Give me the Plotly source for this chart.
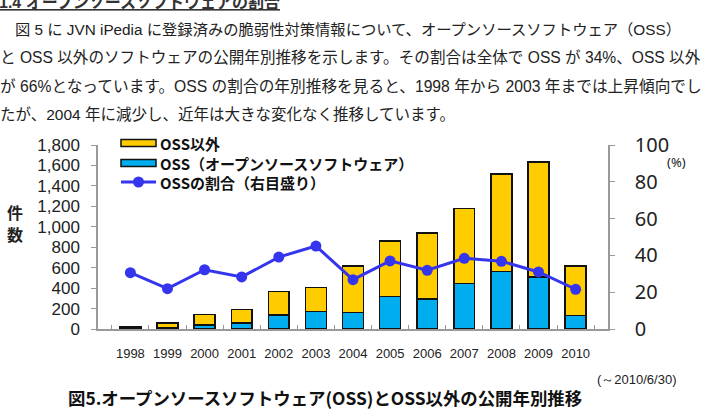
import plotly.graph_objects as go

# ---------------- data ----------------
years = ["1998", "1999", "2000", "2001", "2002", "2003", "2004",
         "2005", "2006", "2007", "2008", "2009", "2010"]
oss = [6, 13, 40, 60, 135, 170, 160, 320, 292, 443, 564, 511, 131]
non_oss = [14, 47, 100, 130, 230, 235, 455, 540, 645, 737, 954, 1125, 484]
oss_ratio = [30.6, 21.9, 32.2, 28.3, 39.1, 45.1, 26.8, 37.0, 31.9, 38.4, 36.8, 31.0, 21.6]

name_non_oss = "OSS以外"
name_oss = "OSS（オープンソースソフトウェア）"
name_ratio = "OSSの割合（右目盛り）"

heading = "<u>1.4 オープンソースソフトウェアの割合</u>"
body_lines = [
    "図 5 に JVN iPedia に登録済みの脆弱性対策情報について、オープンソースソフトウェア（OSS）",
    "と OSS 以外のソフトウェアの公開年別推移を示します。その割合は全体で OSS が 34%、OSS 以外",
    "が 66%となっています。OSS の割合の年別推移を見ると、1998 年から 2003 年までは上昇傾向でし",
    "たが、2004 年に減少し、近年は大きな変化なく推移しています。",
]
caption = "図5.オープンソースソフトウェア(OSS)とOSS以外の公開年別推移"
caption_note = "(～2010/6/30)"
y_label_chars = ["件", "数"]

# ---------------- layout helpers ----------------
W, H = 702, 415
PL, PR, PT, PB = 98, 608, 145, 329  # plot area in pixels


def px(x):
    return (x - PL) / (PR - PL)


def py(y):
    return (PB - y) / (PB - PT)


YELLOW = "#FFCC00"
CYAN = "#00AEEF"
BLUE = "#3535EE"
GRAY = "#999999"
JP = "Liberation Sans, Noto Sans CJK JP, sans-serif"
JPB = "Noto Sans CJK JP, sans-serif"

fig = go.Figure()
fig.add_trace(go.Bar(x=years, y=oss, name=name_oss, marker=dict(color=CYAN, line=dict(color="#111111", width=1.5)),
                     showlegend=False))
fig.add_trace(go.Bar(x=years, y=non_oss, name=name_non_oss, marker=dict(color=YELLOW, line=dict(color="#111111", width=1.5)),
                     showlegend=False))
fig.add_trace(go.Scatter(x=years, y=oss_ratio, name=name_ratio, yaxis="y2", mode="lines+markers",
                         line=dict(color=BLUE, width=3), marker=dict(color=BLUE, size=11),
                         showlegend=False))

fig.update_layout(
    width=W, height=H,
    margin=dict(l=PL, r=W - PR, t=PT, b=H - PB),
    paper_bgcolor="white", plot_bgcolor="white",
    barmode="stack", bargap=0.44,
    showlegend=False,
    xaxis=dict(type="category", showgrid=False, showline=True, linecolor=GRAY, linewidth=1.5,
               ticks="inside", tickson="boundaries", ticklen=4, tickcolor=GRAY, tickangle=0,
               tickfont=dict(family="Liberation Sans", size=13, color="#222"), ticklabelstandoff=12),
    yaxis=dict(range=[0, 1800], dtick=200, tickformat=",", showgrid=False, zeroline=False,
               showline=True, linecolor=GRAY, linewidth=1.5, ticks="outside", ticklen=5, tickcolor=GRAY,
               tickfont=dict(family="Liberation Sans", size=17, color="#222"), ticklabelstandoff=8),
    yaxis2=dict(range=[0, 100], dtick=20, overlaying="y", side="right", showgrid=False, zeroline=False,
                showline=True, linecolor=GRAY, linewidth=1.5, ticks="outside", ticklen=5, tickcolor=GRAY,
                tickfont=dict(family="Noto Sans", size=20, color="#222"), ticklabelstandoff=16),
)

# ---------------- manual legend ----------------
shapes = []
ann = []
leg_rows = [(143, name_non_oss, YELLOW), (163, name_oss, CYAN)]
for yc, label, col in leg_rows:
    shapes.append(dict(type="rect", xref="paper", yref="paper",
                       x0=px(121), x1=px(156), y0=py(yc + 3.5), y1=py(yc - 3.5),
                       fillcolor=col, line=dict(color="#111111", width=1.5)))
    ann.append(dict(x=px(158), y=py(yc), xref="paper", yref="paper", xanchor="left", yanchor="middle",
                    text="<b>" + label + "</b>", showarrow=False, font=dict(family=JPB, size=15, color="#111")))
shapes.append(dict(type="line", xref="paper", yref="paper", x0=px(121), x1=px(156), y0=py(182), y1=py(182),
                   line=dict(color=BLUE, width=3)))
shapes.append(dict(type="circle", xref="paper", yref="paper", x0=px(133), x1=px(144), y0=py(187.5), y1=py(176.5),
                   fillcolor=BLUE, line=dict(color=BLUE, width=0)))
ann.append(dict(x=px(158), y=py(182), xref="paper", yref="paper", xanchor="left", yanchor="middle",
                text="<b>" + name_ratio + "</b>", showarrow=False, font=dict(family=JPB, size=15, color="#111")))

# axis labels / units
for ch, yy in zip(y_label_chars, [212, 234]):
    ann.append(dict(x=px(15), y=py(yy), xref="paper", yref="paper", xanchor="center", yanchor="middle",
                    text="<b>" + ch + "</b>", showarrow=False, font=dict(family=JPB, size=16, color="#222")))
ann.append(dict(x=px(676), y=py(162), xref="paper", yref="paper", xanchor="center", yanchor="middle",
                text="(%)", showarrow=False, font=dict(family="Noto Sans", size=13, color="#222")))

# caption
ann.append(dict(x=px(325), y=py(397), xref="paper", yref="paper", xanchor="center", yanchor="middle",
                text="<b>" + caption + "</b>", showarrow=False, font=dict(family=JPB, size=17.4, color="#111")))
ann.append(dict(x=px(637), y=py(379), xref="paper", yref="paper", xanchor="center", yanchor="middle",
                text=caption_note, showarrow=False, font=dict(family="Liberation Sans", size=13, color="#222")))

# body text above chart
ann.append(dict(x=px(-3), y=py(3), xref="paper", yref="paper", xanchor="left", yanchor="middle",
                text="<b>" + heading + "</b>", showarrow=False, font=dict(family=JP, size=16, color="#333")))
line_y = [29, 57, 86, 114]
line_x = [13, -2, -2, -2]
line_size = [15.3, 15.6, 15.7, 15.5]
for t, yy, xx, fs in zip(body_lines, line_y, line_x, line_size):
    ann.append(dict(x=px(xx), y=py(yy), xref="paper", yref="paper", xanchor="left", yanchor="middle",
                    text=t, showarrow=False, font=dict(family=JP, size=fs, color="#222")))

fig.update_layout(shapes=shapes, annotations=ann)
fig.write_html("out.html")
